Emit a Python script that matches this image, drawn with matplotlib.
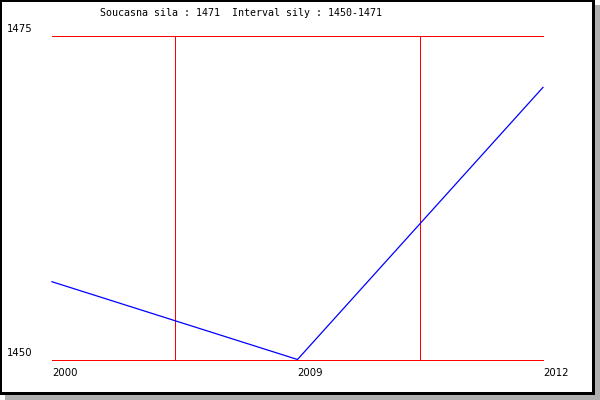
import matplotlib
matplotlib.use("Agg")
import matplotlib.pyplot as plt
from matplotlib.patches import Rectangle

# data
years = ["2000", "2009", "2012"]
sila = [1456, 1450, 1471]
y_min, y_max = 1450, 1475
title = "Soucasna sila : 1471  Interval sily : 1450-1471"

W, H = 600, 400
fig = plt.figure(figsize=(6, 4), dpi=100, facecolor="white")


def px_rect(x0, y0, x1, y1, color):
    # rectangle given in image pixels (top-left origin)
    r = Rectangle((x0 / W, 1 - y1 / H), (x1 - x0) / W, (y1 - y0) / H,
                  transform=fig.transFigure, facecolor=color,
                  edgecolor="none", zorder=-10)
    fig.patches.append(r)


# frame with shadow
px_rect(5, 5, 600, 400, "#b0b0b0")
px_rect(0, 0, 595, 395, "black")
px_rect(2, 2, 592, 392, "white")

ax = fig.add_axes([52 / W, 1 - 359.5 / H, (543 - 52) / W, (359 - 35) / H])
ax.set_facecolor("none")
for s in ax.spines.values():
    s.set_visible(False)

x = list(range(len(years)))
ax.plot(x, sila, color="blue", lw=0.9, zorder=3, clip_on=False)

# red grid lines
for yv in [y_min, y_max]:
    ax.axhline(yv, color="red", lw=0.72, zorder=2, clip_on=False, snap=True)
for xv in [0.5, 1.5]:
    ax.axvline(xv, color="red", lw=0.72, zorder=2, clip_on=False, snap=True)

ax.set_xlim(0, len(years) - 1)
ax.set_ylim(y_min, y_max)
ax.set_xticks([])
ax.set_yticks([])

# tick labels
for xi, lab in zip(x, years):
    ax.annotate(lab, (xi, y_min), xytext=(0, -10), textcoords="offset points",
                ha="left", va="center", fontsize=7.3, family="DejaVu Sans")
for yv in [y_max, y_min]:
    ax.annotate(str(yv), (0, yv), xytext=(-45 * 0.72, 4.5), textcoords="offset points",
                ha="left", va="center", fontsize=7.3, family="DejaVu Sans")

fig.text(100 / W, 1 - 13 / H, title, ha="left", va="center",
         fontsize=7.2, family="DejaVu Sans Mono")

fig.savefig("out.png", dpi=100)
